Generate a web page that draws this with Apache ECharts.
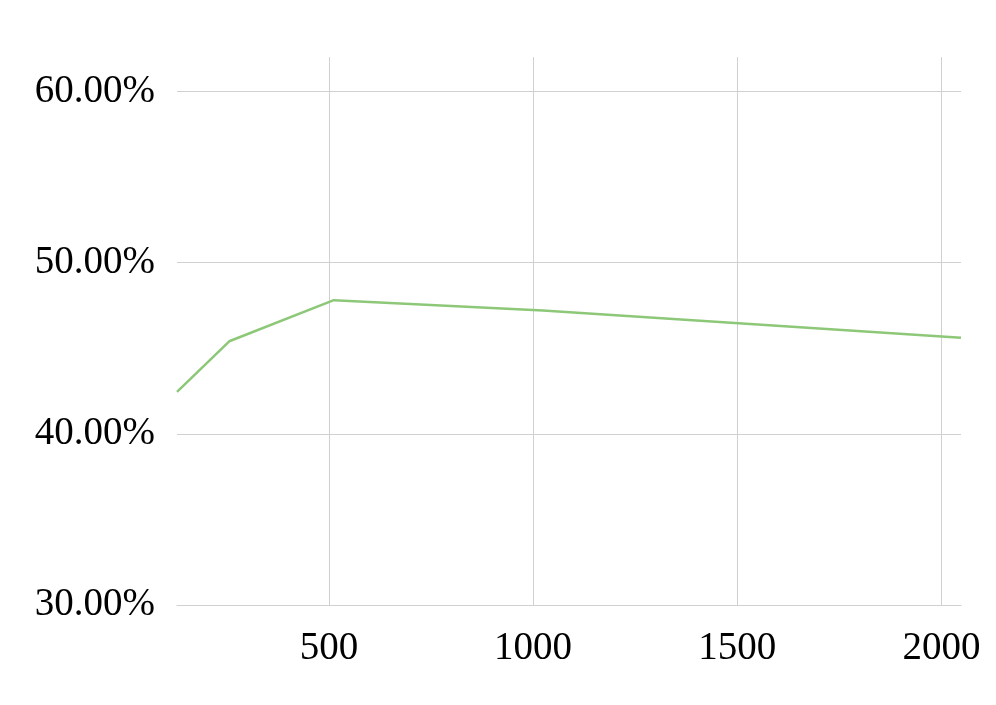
<!DOCTYPE html>
<html>
<head>
<meta charset="utf-8">
<script src="https://cdn.jsdelivr.net/npm/echarts@6/dist/echarts.min.js"></script>
<style>html,body{margin:0;padding:0;background:#fff}#c{width:996px;height:705px}</style>
</head>
<body>
<div id="c"></div>
<script>
const xValues = [128, 256, 512, 1024, 2048];
const yValues = [42.45, 45.40, 47.80, 47.19, 45.60];
const yTicks = [30, 40, 50, 60];

const chart = echarts.init(document.getElementById('c'), null, {renderer: 'canvas'});
const font = 'Liberation Serif, Times New Roman, serif';
chart.setOption({
  animation: false,
  backgroundColor: '#ffffff',
  grid: {left: 177, right: 35, top: 57, bottom: 100, containLabel: false},
  xAxis: {
    type: 'value',
    min: 128,
    max: 2048,
    splitNumber: 4,
    axisLine: {show: true, lineStyle: {color: '#d0d0d0', width: 1}},
    axisTick: {show: false},
    axisLabel: {
      color: '#000', fontFamily: font, fontSize: 39, margin: 24,
      showMinLabel: false, showMaxLabel: false,
      formatter: v => String(v)
    },
    splitLine: {show: true, showMinLine: false, showMaxLine: false, lineStyle: {color: '#d0d0d0', width: 1}}
  },
  yAxis: {
    type: 'value',
    min: 30,
    max: 62,
    interval: 10,
    axisLine: {show: false},
    axisTick: {show: false},
    axisLabel: {
      color: '#000', fontFamily: font, fontSize: 39, margin: 22,
      showMaxLabel: false,
      formatter: v => yTicks.includes(v) ? v.toFixed(2) + '%' : ''
    },
    splitLine: {show: true, showMaxLine: false, lineStyle: {color: '#d0d0d0', width: 1}}
  },
  series: [{
    type: 'line',
    data: xValues.map((x, i) => [x, yValues[i]]),
    showSymbol: false,
    symbol: 'none',
    lineStyle: {color: '#8dc878', width: 2.5},
    itemStyle: {color: '#8dc878'}
  }]
});
</script>
</body>
</html>
